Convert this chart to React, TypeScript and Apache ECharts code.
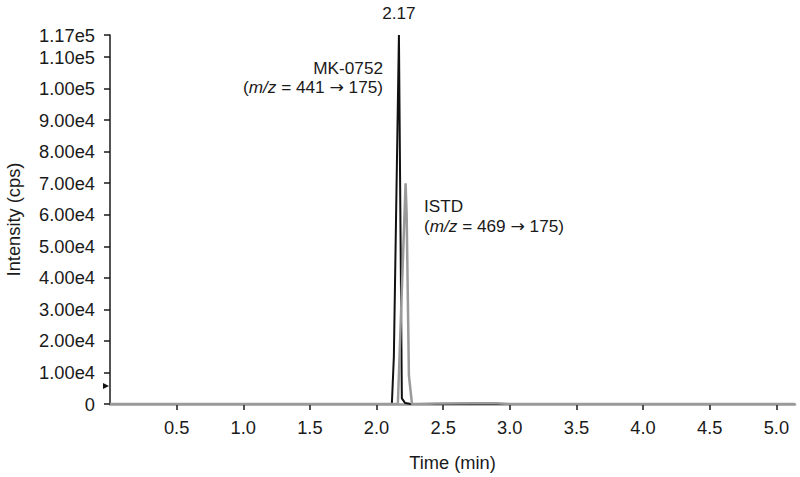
import React, { useEffect, useRef } from "react";
import * as echarts from "echarts";

const xTicks = [0.5, 1.0, 1.5, 2.0, 2.5, 3.0, 3.5, 4.0, 4.5, 5.0];
const yTicks = [0, 10000, 20000, 30000, 40000, 50000, 60000, 70000, 80000, 90000, 100000, 110000, 117000];

const mkTime = [0, 2.115, 2.13, 2.168, 2.19, 2.215, 2.26, 5.14];
const mkIntensity = [0, 0, 15000, 117000, 1800, 300, 0, 0];

const istdTime = [0, 2.16, 2.218, 2.226, 2.243, 2.266, 2.3, 2.45, 2.7, 2.9, 3.0, 5.14];
const istdIntensity = [0, 0, 70000, 60000, 9000, 0, 0, 150, 250, 200, 0, 0];

const apexLabel = "2.17";
const markerValue = 5700;

const FONT = "Liberation Sans, Arial, Helvetica, sans-serif";
const FS = 18.3;
const AFS = 17.2;

function pairs(xs: number[], ys: number[]) {
  return xs.map((x, i) => [x, ys[i]]);
}

function fmtY(v: number) {
  if (v === 0) return "0";
  return v.toExponential(2).replace("e+", "e");
}

const richStyle = {
  i: { fontStyle: "italic", fontSize: AFS, fontFamily: FONT, fill: "#1a1a1a" },
  a: { fontSize: AFS, fontFamily: "DejaVu Sans", fill: "#1a1a1a" },
};

export default function App() {
  const ref = useRef<HTMLDivElement>(null);
  useEffect(() => {
    if (!ref.current) return;
    const chart = echarts.init(ref.current, null, { renderer: "svg" });
    chart.setOption({
      animation: false,
      backgroundColor: "#ffffff",
      textStyle: { fontFamily: FONT },
      grid: { left: 110, right: 5, top: 35, bottom: 73, containLabel: false, outerBoundsMode: "none" },
      xAxis: {
        type: "value",
        min: 0,
        max: 5.14,
        name: "Time (min)",
        nameLocation: "middle",
        nameGap: 49,
        nameTextStyle: { fontSize: FS, color: "#1a1a1a", fontFamily: FONT },
        axisLine: { show: true, onZero: false, lineStyle: { color: "#999999", width: 2.5 } },
        axisTick: { show: true, length: 6, lineStyle: { color: "#1a1a1a", width: 1.5 }, customValues: xTicks },
        axisLabel: {
          fontSize: FS,
          color: "#1a1a1a",
          margin: 14,
          customValues: xTicks,
          formatter: (v: number) => v.toFixed(1),
        },
        splitLine: { show: false },
      },
      yAxis: {
        type: "value",
        min: 0,
        max: 117000,
        name: "Intensity (cps)",
        nameLocation: "middle",
        nameGap: 88,
        nameRotate: 90,
        nameTextStyle: { fontSize: FS, color: "#1a1a1a", fontFamily: FONT },
        axisLine: { show: true, lineStyle: { color: "#1a1a1a", width: 1.5 } },
        axisTick: { show: true, length: 6, lineStyle: { color: "#1a1a1a", width: 1.5 }, customValues: yTicks },
        axisLabel: {
          fontSize: FS,
          color: "#1a1a1a",
          margin: 15,
          customValues: yTicks,
          formatter: fmtY,
        },
        splitLine: { show: false },
      },
      series: [
        {
          name: "MK-0752",
          type: "line",
          data: pairs(mkTime, mkIntensity),
          showSymbol: false,
          symbol: "none",
          lineStyle: { color: "#111111", width: 2 },
          z: 2,
          markPoint: {
            symbol: "circle",
            symbolSize: 0,
            data: [
              {
                coord: [mkTime[3], mkIntensity[3]],
                label: {
                  show: true,
                  formatter: apexLabel,
                  position: "top",
                  distance: 14,
                  fontSize: AFS,
                  color: "#1a1a1a",
                  fontFamily: FONT,
                },
              },
              {
                coord: [0, markerValue],
                symbol: "triangle",
                symbolSize: [6, 6],
                symbolRotate: -90,
                symbolOffset: [-4, 0],
                itemStyle: { color: "#111111" },
                label: { show: false },
              },
            ],
          },
        },
        {
          name: "ISTD",
          type: "line",
          data: pairs(istdTime, istdIntensity),
          showSymbol: false,
          symbol: "none",
          lineStyle: { color: "#9a9a9a", width: 2.5 },
          z: 3,
        },
      ],
      graphic: [
        {
          type: "text",
          right: 800 - 383,
          top: 59,
          style: { text: "MK-0752", fontSize: AFS, fill: "#1a1a1a", fontFamily: FONT },
        },
        {
          type: "text",
          right: 800 - 383,
          top: 78,
          style: {
            text: "({i|m/z} = 441 {a|\u2192} 175)",
            fontSize: AFS,
            fill: "#1a1a1a",
            fontFamily: FONT,
            rich: richStyle,
          },
        },
        {
          type: "text",
          left: 424,
          top: 197,
          style: { text: "ISTD", fontSize: AFS, fill: "#1a1a1a", fontFamily: FONT },
        },
        {
          type: "text",
          left: 424,
          top: 217,
          style: {
            text: "({i|m/z} = 469 {a|\u2192} 175)",
            fontSize: AFS,
            fill: "#1a1a1a",
            fontFamily: FONT,
            rich: richStyle,
          },
        },
      ],
    });
    return () => chart.dispose();
  }, []);
  return <div ref={ref} style={{ width: 800, height: 477, position: "absolute", left: 0, top: 0 }} />;
}
